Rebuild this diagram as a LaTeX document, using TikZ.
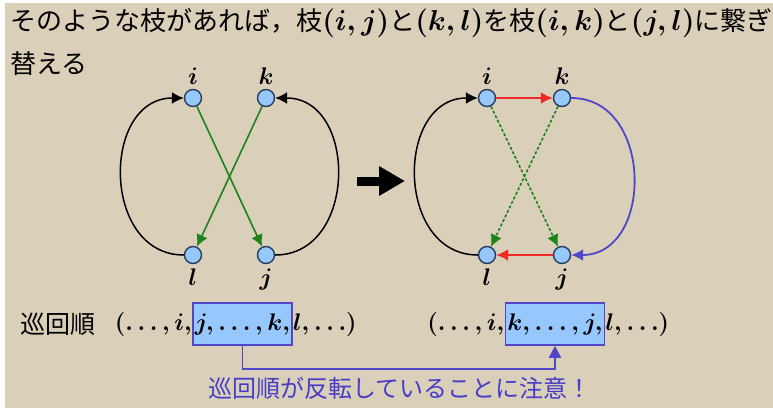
\documentclass[tikz,border=0pt]{standalone}
\usepackage{fontspec}
\newfontfamily\jp{Noto Sans CJK JP}
\usepackage{amsmath}
\usetikzlibrary{arrows.meta, positioning, calc}
\definecolor{parch}{RGB}{218,208,186}
\definecolor{vfill}{RGB}{150,200,250}
\definecolor{vline}{RGB}{40,60,95}
\definecolor{egreen}{RGB}{30,130,30}
\definecolor{ered}{RGB}{240,40,40}
\definecolor{eblue}{RGB}{80,70,200}
\definecolor{boxfill}{RGB}{150,200,255}
\definecolor{noteblue}{RGB}{70,60,200}
\newcommand{\pairm}[1]{{\fontsize{13.5}{21.5}\selectfont$#1$}}
\tikzset{
  vtx/.style   = {circle, draw=vline, fill=vfill, line width=0.7pt,
                  minimum size=8.5pt, inner sep=0pt},
  vlbl/.style  = {font=\fontsize{13}{15}\selectfont\boldmath, inner sep=0.5pt},
  tour/.style  = {font=\fontsize{13}{16}\selectfont\boldmath, inner sep=0pt},
  seg/.style   = {tour, draw=eblue, fill=boxfill, line width=0.8pt,
                  minimum width=49.5pt, minimum height=21pt, inner xsep=0.5pt},
  tip/.style   = {-{Latex[length=6pt,width=6pt]}},
  loop/.style  = {tip, line width=0.75pt},
  cross/.style = {tip, draw=egreen, line width=0.8pt},
  swap/.style  = {tip, draw=ered, line width=1pt},
  jtext/.style = {font=\jp\fontsize{12}{21.5}\selectfont, inner sep=0pt},
}

\begin{document}
\begin{tikzpicture}[x=0.5pt, y=-0.5pt]
    \useasboundingbox (0,0) rectangle (773,408);
    \fill[white] (0,0) rectangle (773,408);
    \fill[parch] (5,3) rectangle (773,408);

    % heading
    \node[jtext, anchor=north west, align=left, font=\jp\fontsize{13}{21.5}\selectfont\boldmath]
      (head) at (10,8) {そのような枝があれば，枝\pairm{(i,j)}と\pairm{(k,l)}を枝\pairm{(i,k)}と\pairm{(j,l)}に繋ぎ\\替える};

    % before
    \node[vtx] (ai) at (193,98)  {};
    \node[vtx] (ak) at (266,98)  {};
    \node[vtx] (al) at (193,255) {};
    \node[vtx] (aj) at (266,255) {};
    \node[vlbl, above=1.5pt of ai] (ail) {$i$};
    \node[vlbl, above=1.5pt of ak] (akl) {$k$};
    \node[vlbl, below=1.5pt of al] (all) {$l$};
    \node[vlbl, below=1.5pt of aj] (ajl) {$j$};
    \draw[loop] (al.west) to[out=180, in=180, looseness=1.35] (ai.west);
    \draw[loop] (aj.east) to[out=0, in=0, looseness=1.35] (ak.east);
    \draw[cross] (ai) -- (aj);
    \draw[cross] (ak) -- (al);

    % the big arrow
    \coordinate (go1) at (357,181);
    \coordinate (go2) at (405,181);
    \draw[line width=4.5pt, -{Triangle[length=13pt, width=14pt]}] (go1) -- (go2);

    % after
    \node[vtx] (bi) at (487,98)  {};
    \node[vtx] (bk) at (562,98)  {};
    \node[vtx] (bl) at (487,255) {};
    \node[vtx] (bj) at (562,255) {};
    \node[vlbl, above=1.5pt of bi] (bil) {$i$};
    \node[vlbl, above=1.5pt of bk] (bkl) {$k$};
    \node[vlbl, below=1.5pt of bl] (bll) {$l$};
    \node[vlbl, below=1.5pt of bj] (bjl) {$j$};
    \draw[loop] (bl.west) to[out=180, in=180, looseness=1.35] (bi.west);
    \draw[loop, draw=eblue, line width=0.9pt] (bk.east) to[out=0, in=0, looseness=1.35] (bj.east);
    \draw[cross, dash pattern=on 1.5pt off 1pt] (bi) -- (bj);
    \draw[cross, dash pattern=on 1.5pt off 1pt] (bk) -- (bl);
    \draw[swap] (bi) -- (bk);
    \draw[swap] (bj) -- (bl);

    % tours
    \node[jtext, anchor=base west, font=\jp\fontsize{12.5}{15}\selectfont] (name) at (20,333) {巡回順};
    \node[seg] (lbox) at (242.5,324) {$j,\ldots,k,$};
    \node[tour, anchor=base east] (lpre) at (lbox.base west) {$(\ldots,i,$};
    \node[tour, anchor=base west] (lpost) at (lbox.base east) {$l,\ldots)$};
    \node[seg] (rbox) at (555,324) {$k,\ldots,j,$};
    \node[tour, anchor=base east] (rpre) at (rbox.base west) {$(\ldots,i,$};
    \node[tour, anchor=base west] (rpost) at (rbox.base east) {$l,\ldots)$};

    \draw[draw=eblue, line width=0.9pt, -{Triangle[length=6pt, width=6pt]}]
      (lbox.south) -- ++(0,23) -| (rbox.south);
    \node[jtext, text=noteblue] (note) at (400,388) {巡回順が反転していることに注意！};
\end{tikzpicture}
\end{document}
